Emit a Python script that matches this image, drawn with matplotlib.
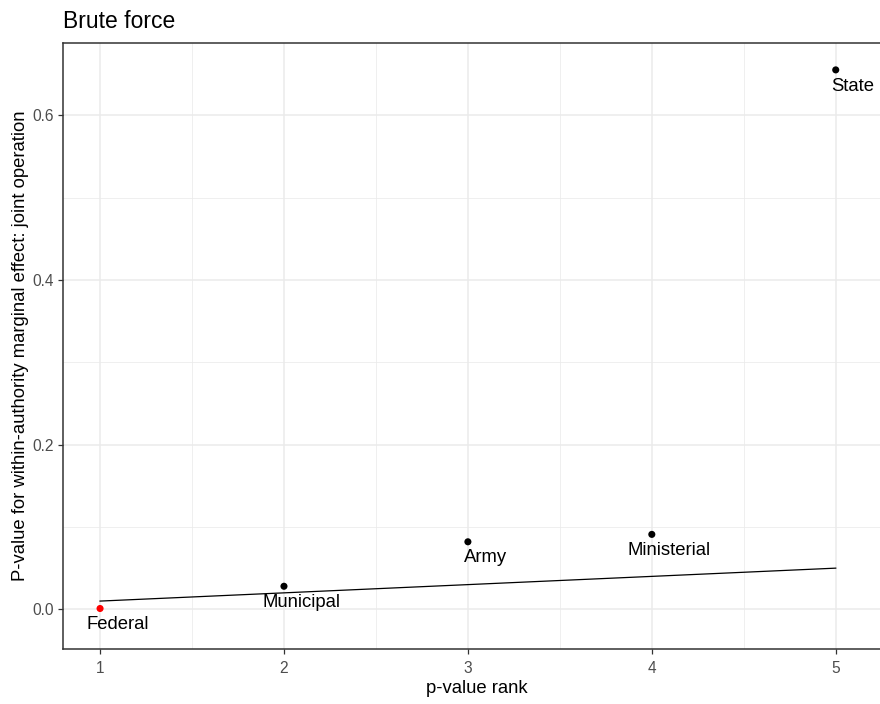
import matplotlib
matplotlib.use("Agg")
import matplotlib.pyplot as plt
from matplotlib.ticker import MultipleLocator

# p-value ranks, p-values and labels
ranks = [1, 2, 3, 4, 5]
pvals = [0.001, 0.028, 0.082, 0.091, 0.655]
labels = ["Federal", "Municipal", "Army", "Ministerial", "State"]
colors = ["red", "black", "black", "black", "black"]
# BH threshold line 0.05*k/m
bh_line = [0.01, 0.02, 0.03, 0.04, 0.05]

plt.rcParams['font.family'] = ['Liberation Sans', 'DejaVu Sans']

fig = plt.figure(figsize=(8.8, 7.04), dpi=100)
ax = fig.add_axes([0.0719, 0.0781, 0.9405, 0.861])

ax.plot(ranks, bh_line, color="black", lw=0.9, zorder=2)
ax.scatter(ranks, pvals, c=colors, s=26, zorder=3, edgecolors="none")
for x, y, lab in zip(ranks, pvals, labels):
    ax.annotate(lab, (x, y), xytext=(12.5, -5.5), textcoords="offset points",
                ha="center", va="top", fontsize=13.3, color="black")

ax.set_xlim(0.8, 5.3)
ax.set_ylim(-0.0482, 0.6878)

ax.xaxis.set_major_locator(MultipleLocator(1))
ax.xaxis.set_minor_locator(MultipleLocator(0.5))
ax.yaxis.set_major_locator(MultipleLocator(0.2))
ax.yaxis.set_minor_locator(MultipleLocator(0.1))
ax.yaxis.set_major_formatter(plt.FuncFormatter(lambda v, p: f"{v:.1f}"))

ax.grid(which="major", color="#EBEBEB", lw=1.1, zorder=0)
ax.grid(which="minor", color="#EBEBEB", lw=0.55, zorder=0)
ax.set_axisbelow(True)

for s in ax.spines.values():
    s.set_color("#333333")
    s.set_linewidth(1.1)

ax.tick_params(which="major", direction="out", length=3.5, width=0.9,
               color="#333333", labelcolor="#4D4D4D", labelsize=11.2)
ax.tick_params(axis="x", pad=5)
ax.tick_params(which="minor", length=0)

ax.set_xlabel("p-value rank", fontsize=13.3, labelpad=3)
ax.set_ylabel("P-value for within-authority marginal effect: joint operation",
              fontsize=13.3, labelpad=2)
ax.set_title("Brute force", loc="left", fontsize=16.5, pad=11)

fig.savefig("out.png", dpi=100)
